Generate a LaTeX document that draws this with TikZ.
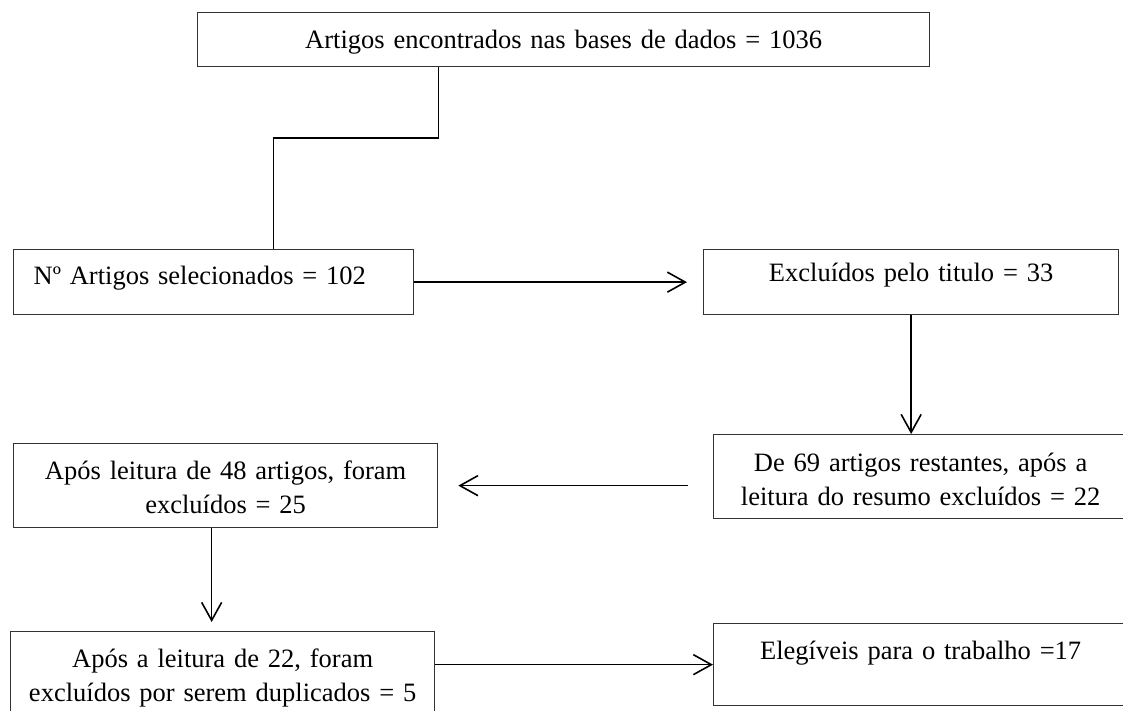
\documentclass[tikz,border=0pt]{standalone}
\usepackage{fontspec}
\setmainfont{Liberation Serif}
\usetikzlibrary{arrows.meta}

\begin{document}
\begin{tikzpicture}[x=0.5pt,y=-0.5pt,
  caixa/.style={draw=black!80,line width=0.65pt,anchor=north west,inner sep=0pt,align=center,font=\fontsize{13.25pt}{17pt}\selectfont},
  seta/.style={line width=0.8pt,-{Straight Barb[length=9pt,width=10pt]}},
  linha/.style={line width=0.8pt}]
\useasboundingbox (0,0) rectangle (1123,711);

\node[caixa,text width=366pt,text height=18pt,text depth=9pt] (encontrados) at (197,12) {Artigos encontrados nas bases de dados = 1036};
\node[caixa,align=left,inner xsep=10pt,text width=180pt,text height=17.5pt,text depth=15pt] (selecionados) at (13,249) {Nº Artigos selecionados = 102};
\node[caixa,text width=207.5pt,text height=16pt,text depth=16.5pt] (titulo) at (703,249) {Excluídos pelo titulo = 33};
\node[caixa,text width=207pt,text height=18.5pt,text depth=23.5pt] (restantes) at (713,434) {De 69 artigos restantes, após a\\leitura do resumo excluídos = 22};
\node[caixa,text width=212pt,text height=18pt,text depth=24pt] (leitura48) at (13,443) {Após leitura de 48 artigos, foram\\excluídos = 25};
\node[caixa,text width=212pt,text height=18pt,text depth=26pt] (duplicados) at (10,631) {Após a leitura de 22, foram\\excluídos por serem duplicados = 5};
\node[caixa,text width=207pt,text height=18pt,text depth=23pt] (elegiveis) at (713,623) {Elegíveis para o trabalho =17};

\coordinate (desce) at ([xshift=-7pt]leitura48.south);
\draw[linha] ([xshift=-62.5pt]encontrados.south) -- ++(0,71) -| ([xshift=30pt]selecionados.north);
\draw[seta,shorten >=8pt] (selecionados.east) -- (titulo.west);
\draw[seta] (titulo.south) -- (titulo.south |- restantes.north);
\draw[seta,shorten <=12.5pt,shorten >=10pt] (restantes.west |- leitura48.east) -- (leitura48.east);
\draw[seta,shorten >=4.5pt] (desce) -- (desce |- duplicados.north);
\draw[seta] (duplicados.east |- elegiveis.west) -- (elegiveis.west);
\end{tikzpicture}
\end{document}
